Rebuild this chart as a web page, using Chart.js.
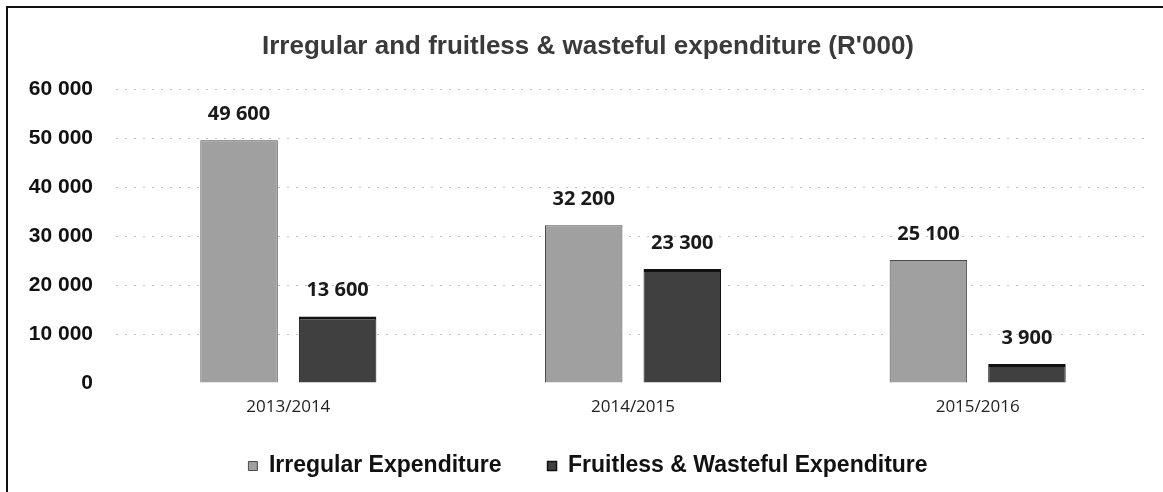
<!DOCTYPE html>
<html>
<head>
<meta charset="utf-8">
<script src="https://cdn.jsdelivr.net/npm/chart.js@4.4.1/dist/chart.umd.min.js"></script>
<style>
  html, body { margin: 0; padding: 0; background: #fff; }
  #wrap { position: relative; width: 1163px; height: 492px; overflow: hidden; }
  #frame { position: absolute; left: 6px; top: 6px; width: 1163px; height: 492px; border-left: 2px solid #111; border-top: 2px solid #111; pointer-events: none; }
  canvas { position: absolute; left: 0; top: 0; }
</style>
</head>
<body>
<div id="wrap">
  <canvas id="c" width="1163" height="492"></canvas>
  <div id="frame"></div>
</div>
<script>
const titleText = "Irregular and fruitless & wasteful expenditure (R'000)";
const categories = ["2013/2014", "2014/2015", "2015/2016"];
const seriesNames = ["Irregular Expenditure", "Fruitless & Wasteful Expenditure"];
const irregular = [49600, 32200, 25100];
const fruitless = [13600, 23300, 3900];
const yTicks = [0, 10000, 20000, 30000, 40000, 50000, 60000];

const LEGEND_PAD = 46;
const LEGEND_FONT = 23;
const LEGEND_CENTER_Y = 466;

function fmt(v) {
  return String(v).replace(/\B(?=(\d{3})+(?!\d))/g, " ");
}

const valueLabels = {
  id: 'valueLabels',
  afterDatasetsDraw(chart) {
    const ctx = chart.ctx;
    ctx.save();
    ctx.font = 'bold 20px "Open Sans", sans-serif';
    ctx.fillStyle = '#1a1a1a';
    ctx.textAlign = 'center';
    ctx.textBaseline = 'middle';
    chart.data.datasets.forEach((ds, di) => {
      const meta = chart.getDatasetMeta(di);
      meta.data.forEach((bar, i) => {
        ctx.fillText(fmt(ds.data[i]), bar.x, bar.y - 26);
      });
    });
    ctx.restore();
  }
};

// Legend sits with wide spacing between items; move its box so the row is centred at LEGEND_CENTER_Y
const legendShift = {
  id: 'legendShift',
  afterLayout(chart) {
    const lg = chart.legend;
    if (!lg) return;
    const target = LEGEND_CENTER_Y - LEGEND_PAD - LEGEND_FONT / 2;
    const dy = target - lg.top;
    lg.top += dy;
    lg.bottom += dy;
  }
};

new Chart(document.getElementById('c'), {
  type: 'bar',
  data: {
    labels: categories,
    datasets: [
      {
        label: seriesNames[0],
        data: irregular,
        backgroundColor: '#a0a0a0',
        borderColor: '#4a4a4a',
        borderWidth: 1,
        barPercentage: 0.786,
        categoryPercentage: 0.572
      },
      {
        label: seriesNames[1],
        data: fruitless,
        backgroundColor: '#404040',
        borderColor: '#111111',
        borderWidth: { top: 3, left: 1, right: 1, bottom: 1 },
        barPercentage: 0.786,
        categoryPercentage: 0.572
      }
    ]
  },
  options: {
    responsive: false,
    animation: false,
    devicePixelRatio: 1,
    layout: { padding: { left: 26, right: 13, top: 0, bottom: -12 } },
    plugins: {
      title: {
        display: true,
        text: titleText,
        color: '#3a3a3a',
        font: { family: '"Liberation Sans", Arial, sans-serif', size: 26, weight: 'bold' },
        padding: { top: 31, bottom: 27 }
      },
      legend: {
        display: true,
        position: 'bottom',
        labels: {
          color: '#111',
          font: { family: '"Liberation Sans", Arial, sans-serif', size: LEGEND_FONT, weight: 'bold' },
          boxWidth: 9,
          boxHeight: 9,
          padding: LEGEND_PAD
        }
      },
      tooltip: { enabled: false }
    },
    scales: {
      x: {
        grid: { display: false, drawTicks: false },
        border: { display: false },
        ticks: {
          color: '#222',
          font: { family: '"Open Sans", sans-serif', size: 17 },
          padding: 14
        },
        afterFit(scale) { scale.height = 42; }
      },
      y: {
        min: 0,
        max: 60000,
        afterBuildTicks(scale) { scale.ticks = yTicks.map(v => ({ value: v })); },
        grid: {
          drawTicks: false,
          color: (c) => c.tick && c.tick.value === 0 ? 'rgba(0,0,0,0)' : '#c4c4c4',
          lineWidth: 1
        },
        border: { display: false, dash: [2, 7] },
        ticks: {
          color: '#111',
          font: { family: '"Liberation Sans", Arial, sans-serif', size: 21, weight: 'bold' },
          padding: 23,
          callback: (v) => fmt(v)
        },
        afterFit(scale) { scale.width = 90; }
      }
    }
  },
  plugins: [valueLabels, legendShift]
});
</script>
</body>
</html>
